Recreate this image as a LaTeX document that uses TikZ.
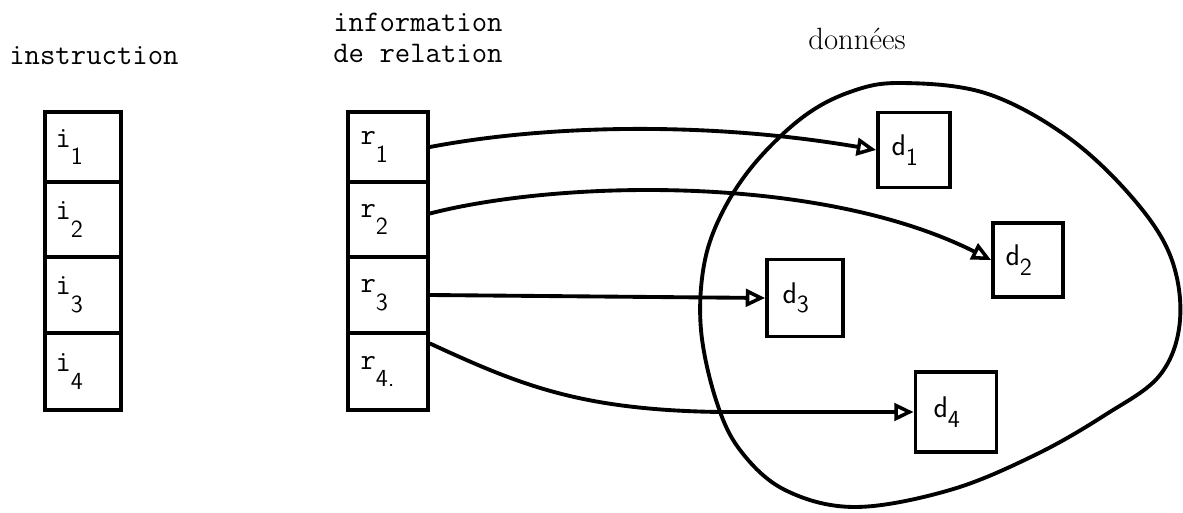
\documentclass[tikz,border=0pt]{standalone}
\usetikzlibrary{arrows.meta,calc}
\newcommand\ttlbl{\fontsize{17}{17}\selectfont\ttfamily}
\newcommand\idx[2]{#1\raisebox{-0.6em}{\fontsize{14}{14}\selectfont\sffamily #2}}
\newcommand\didx[2]{{\fontsize{17}{17}\selectfont\sffamily #1}\raisebox{-0.55em}{\fontsize{14}{14}\selectfont\sffamily #2}}
\begin{document}
\begin{tikzpicture}[x=0.02cm,y=-0.02cm,
  heading/.style={font=\ttlbl, inner sep=0pt},
  cell/.style={draw, line width=2.2pt, inner xsep=0.18cm, inner ysep=0pt,
    text width=1.1cm, align=left, font=\ttlbl},
  icell/.style={cell, minimum width=1.52cm},
  rcell/.style={cell, minimum width=1.6cm},
  datum/.style={draw, line width=2.2pt, inner xsep=0.2cm, inner ysep=0pt,
    text width=0.9cm, align=left},
  link/.style={line width=2.2pt, line cap=round,
    -{Triangle[open, length=11pt, width=10pt, line width=2pt]}},
  blob/.style={line width=2.2pt}
]
\useasboundingbox (0,0) rectangle (1183,513);

% column headings
\node[heading, anchor=base west] (hinstr) at (9,65) {instruction};
\node[heading, anchor=base west] (hinfo) at (333,32) {information};
\node[heading, anchor=base west] (hrel) at (333,63) {de relation};
\node[anchor=base, inner sep=0pt, font=\fontsize{17.5}{17.5}\selectfont] (hdata) at (857,50) {données};

% instruction column
\node[icell, minimum height=1.40cm] (i1) at (83,147)   {\idx{i}{1}};
\node[icell, minimum height=1.50cm] (i2) at (83,219.5) {\idx{i}{2}};
\node[icell, minimum height=1.52cm] (i3) at (83,295)   {\idx{i}{3}};
\node[icell, minimum height=1.54cm] (i4) at (83,371.5) {\idx{i}{4}};

% relation column
\node[rcell, minimum height=1.40cm] (r1) at (388,147)   {\idx{r}{1}};
\node[rcell, minimum height=1.50cm] (r2) at (388,219.5) {\idx{r}{2}};
\node[rcell, minimum height=1.52cm] (r3) at (388,295)   {\idx{r}{3}};
\node[rcell, minimum height=1.54cm] (r4) at (388,371.5) {\idx{r}{4.}};

% data area
\draw[blob] plot[smooth cycle, tension=0.6] coordinates {
  (900,83) (985,93) (1065,135) (1130,195) (1170,255) (1180,320)
  (1160,375) (1105,415) (1035,455) (950,490) (855,507) (785,490)
  (740,450) (716,400) (701,330) (704,265) (722,213) (755,163)
  (803,117) (850,92)};

\node[datum, minimum width=1.44cm, minimum height=1.50cm] (d1) at (914,150)  {\didx{d}{1}};
\node[datum, minimum width=1.40cm, minimum height=1.48cm] (d2) at (1028,260) {\didx{d}{2}};
\node[datum, minimum width=1.52cm, minimum height=1.54cm] (d3) at (805,298)  {\didx{d}{3}};
\node[datum, minimum width=1.62cm, minimum height=1.60cm] (d4) at (956,412)  {\didx{d}{4}};

% relations
\coordinate (bend4) at (720,412);
\draw[link] (r1.east) .. controls (540,126) and (700,120) .. (d1.west);
\draw[link] ($(r2.east)+(0,-6)$) .. controls (560,180) and (820,174) .. (d2.west);
\draw[link] (r3.east) -- (d3.west);
\draw[link] ($(r4.east)+(0,-28)$) .. controls (520,385) and (580,410) .. (bend4) -- (d4.west);
\end{tikzpicture}
\end{document}
